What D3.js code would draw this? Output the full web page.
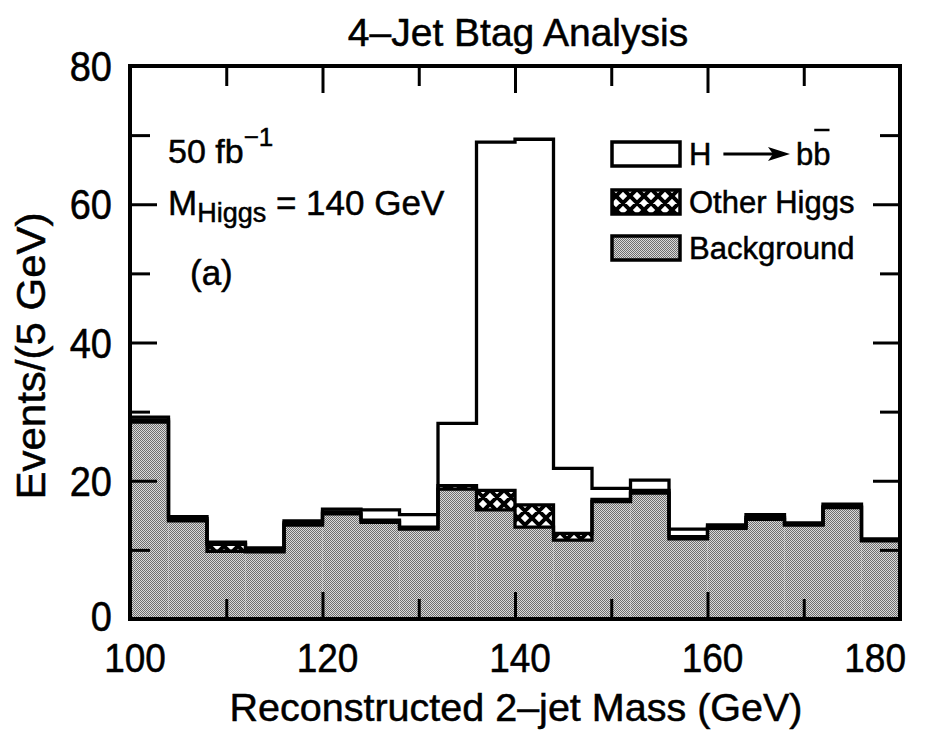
<!DOCTYPE html>
<html>
<head>
<meta charset="utf-8">
<script src="https://cdn.jsdelivr.net/npm/d3@7/dist/d3.min.js"></script>
<style>
  html, body { margin: 0; padding: 0; background: #fff; }
  svg { display: block; }
  text { font-family: "Liberation Sans", Arial, Helvetica, sans-serif; fill: #000; stroke: #000; stroke-width: 0.5px; }
</style>
</head>
<body>
<svg id="chart" width="937" height="734"></svg>
<script>
// ---- Data ----
const binStarts = [100,104,108,112,116,120,124,128,132,136,140,144,148,152,156,160,164,168,172,176];
const binWidth = 4;
const background = [28.5,14.2,9.8,9.7,13.6,15.2,14.0,13.0,18.8,15.8,13.3,11.4,17.0,18.2,11.6,13.1,14.4,13.6,16.1,11.3];
const otherHiggs = [0.3,0.3,1.0,0.2,0.3,0.3,0.3,0.3,0.5,2.8,3.2,1.0,0.3,0.4,0.3,0.2,0.3,0.1,0.2,0.1];
const hToBB      = [0.4,0.3,0.3,0.4,0.3,0.4,1.5,1.8,9.0,50.4,52.9,9.4,1.6,1.5,1.1,0.3,0.4,0.2,0.3,0.2];
const xMajorTicks = [100,120,140,160,180];
const xMinorTicks = [110,130,150,170];
const yMajorTicks = [0,20,40,60,80];
const yMinorTicks = [10,30,50,70];
const legendLabels = ["Other Higgs","Background"];

// ---- Layout ----
const L = 130, R = 900, T = 66, B = 619;
const svg = d3.select("#chart");
const x = d3.scaleLinear().domain([100,180]).range([L,R]);
const y = d3.scaleLinear().domain([0,80]).range([B,T]);

// ---- Patterns ----
const defs = svg.append("defs");
const stip = defs.append("pattern").attr("id","stip").attr("patternUnits","userSpaceOnUse")
  .attr("width",2).attr("height",2);
stip.append("rect").attr("width",2).attr("height",2).attr("fill","#dadada");
stip.append("rect").attr("x",0).attr("y",0).attr("width",1).attr("height",1).attr("fill","#6e6e6e");
stip.append("rect").attr("x",1).attr("y",1).attr("width",1).attr("height",1).attr("fill","#6e6e6e");

const P = 14;
const hatch = defs.append("pattern").attr("id","hatch").attr("patternUnits","userSpaceOnUse")
  .attr("width",P).attr("height",P);
hatch.append("rect").attr("width",P).attr("height",P).attr("fill","#fff");
hatch.append("path")
  .attr("d",`M0,0L${P},${P}M${P},0L0,${P}M-4,${P-4}L4,${P+4}M${P-4},-4L${P+4},4M-4,4L4,-4M${P-4},${P+4}L${P+4},${P-4}`)
  .attr("stroke","#000").attr("stroke-width",4);

// ---- Stacked data ----
const bins = binStarts.map((s,i) => {
  const b0 = background[i], b1 = b0 + otherHiggs[i], b2 = b1 + hToBB[i];
  return {x0:s, x1:s+binWidth, bg:b0, oh:b1, tot:b2};
});

const g = svg.append("g");
g.selectAll("rect.bg").data(bins).join("rect").attr("class","bg")
  .attr("x", d=>x(d.x0)).attr("width", d=>x(d.x1)-x(d.x0))
  .attr("y", d=>y(d.bg)).attr("height", d=>y(0)-y(d.bg)).attr("fill","url(#stip)");
g.selectAll("rect.oh").data(bins).join("rect").attr("class","oh")
  .attr("x", d=>x(d.x0)).attr("width", d=>x(d.x1)-x(d.x0))
  .attr("y", d=>y(d.oh)).attr("height", d=>y(d.bg)-y(d.oh)).attr("fill","url(#hatch)");
g.selectAll("rect.sig").data(bins).join("rect").attr("class","sig")
  .attr("x", d=>x(d.x0)).attr("width", d=>x(d.x1)-x(d.x0))
  .attr("y", d=>y(d.tot)).attr("height", d=>y(d.oh)-y(d.tot)).attr("fill","#fff");

const step = d3.line().x(p=>x(p[0])).y(p=>y(p[1])).curve(d3.curveStepAfter);
["bg","oh","tot"].forEach(k => {
  const pts = bins.map(d=>[d.x0, d[k]]);
  pts.push([180, bins[bins.length-1][k]]);
  g.append("path").attr("d", step(pts)).attr("fill","none")
    .attr("stroke","#000").attr("stroke-width",3.3).attr("stroke-linejoin","miter");
});

// ---- Axes (ticks inward on all four sides) ----
function ticks(axisFn, scale, vals, size, tr) {
  const a = svg.append("g").attr("transform", tr)
    .call(axisFn(scale).tickValues(vals).tickSize(size).tickFormat(""));
  a.select(".domain").remove();
  a.selectAll(".tick line").attr("stroke","#000").attr("stroke-width",3);
}
ticks(d3.axisBottom, x, xMajorTicks, -27, `translate(0,${B})`);
ticks(d3.axisBottom, x, xMinorTicks, -20, `translate(0,${B})`);
ticks(d3.axisTop, x, xMajorTicks, -27, `translate(0,${T})`);
ticks(d3.axisTop, x, xMinorTicks, -20, `translate(0,${T})`);
ticks(d3.axisLeft, y, yMajorTicks, -27, `translate(${L},0)`);
ticks(d3.axisLeft, y, yMinorTicks, -20, `translate(${L},0)`);
ticks(d3.axisRight, y, yMajorTicks, -27, `translate(${R},0)`);
ticks(d3.axisRight, y, yMinorTicks, -20, `translate(${R},0)`);

svg.append("rect").attr("x",L).attr("y",T).attr("width",R-L).attr("height",B-T)
  .attr("fill","none").attr("stroke","#000").attr("stroke-width",4);

// ---- Text helper ----
function txt(px, py, str, size, anchor, sy, rot) {
  return svg.append("text")
    .attr("transform", `translate(${px},${py}) scale(1,${sy||1})` + (rot ? ` rotate(${rot})` : ""))
    .attr("font-size", size).attr("text-anchor", anchor || "start").text(str);
}

// tick labels (the last one is pulled inside the page, as in the reference)
xMajorTicks.forEach((v,i) => {
  if (i === xMajorTicks.length-1) txt(906, 672, String(v), 37, "end", 1.12);
  else txt(x(v)+5, 672, String(v), 37, "middle", 1.12);
});
yMajorTicks.forEach(v => txt(112, y(v)+(v===0?12:15), String(v), 38, "end", 1.12));

// titles
txt(518, 46, "4\u2013Jet Btag Analysis", 39, "middle");
txt(516, 721, "Reconstructed 2\u2013jet Mass  (GeV)", 39.5, "middle");
txt(45, 356, "Events/(5 GeV)", 40, "middle", 1.05, -90);

// annotations
const t1 = txt(168, 163, "50 fb", 34, "start");
t1.append("tspan").attr("dy",-17).attr("font-size",26).text("\u22121");
const t2 = txt(168, 215, "M", 35, "start");
t2.append("tspan").attr("dy",7).attr("font-size",27).text("Higgs");
t2.append("tspan").attr("dy",-7).text(" = 140 GeV");
txt(190, 285, "(a)", 35, "start");

// ---- Legend ----
const boxX = 612, boxW = 68, boxH = 24;
const rows = [142, 190, 236];
const fills = ["#fff","url(#hatch)","url(#stip)"];
rows.forEach((ry,i) => {
  svg.append("rect").attr("x",boxX).attr("y",ry).attr("width",boxW).attr("height",boxH)
    .attr("fill",fills[i]).attr("stroke","#000").attr("stroke-width",3.5);
});
const FS = 31;
const hT = txt(689, rows[0]+23, "H", FS, "start");
const hW = hT.node().getComputedTextLength();
const ay = rows[0] + 12;
const ax0 = 689 + hW + 12, ax1 = 790;
svg.append("line").attr("x1",ax0).attr("x2",ax1-14).attr("y1",ay).attr("y2",ay)
  .attr("stroke","#000").attr("stroke-width",2.8);
svg.append("path").attr("d",`M${ax1-22},${ay-7}L${ax1},${ay}L${ax1-22},${ay+7}L${ax1-17},${ay}Z`).attr("fill","#000");
const bT = txt(ax1 + 6, rows[0]+23, "b", FS, "start");
const bW = bT.node().getComputedTextLength();
txt(ax1 + 6 + bW, rows[0]+23, "b", FS, "start");
svg.append("line").attr("x1",ax1+6+bW+1).attr("x2",ax1+6+2*bW-1)
  .attr("y1",rows[0]-12).attr("y2",rows[0]-12).attr("stroke","#000").attr("stroke-width",2.5);
legendLabels.forEach((lab,i) => txt(689, rows[i+1]+23, lab, FS, "start"));
</script>
</body>
</html>
